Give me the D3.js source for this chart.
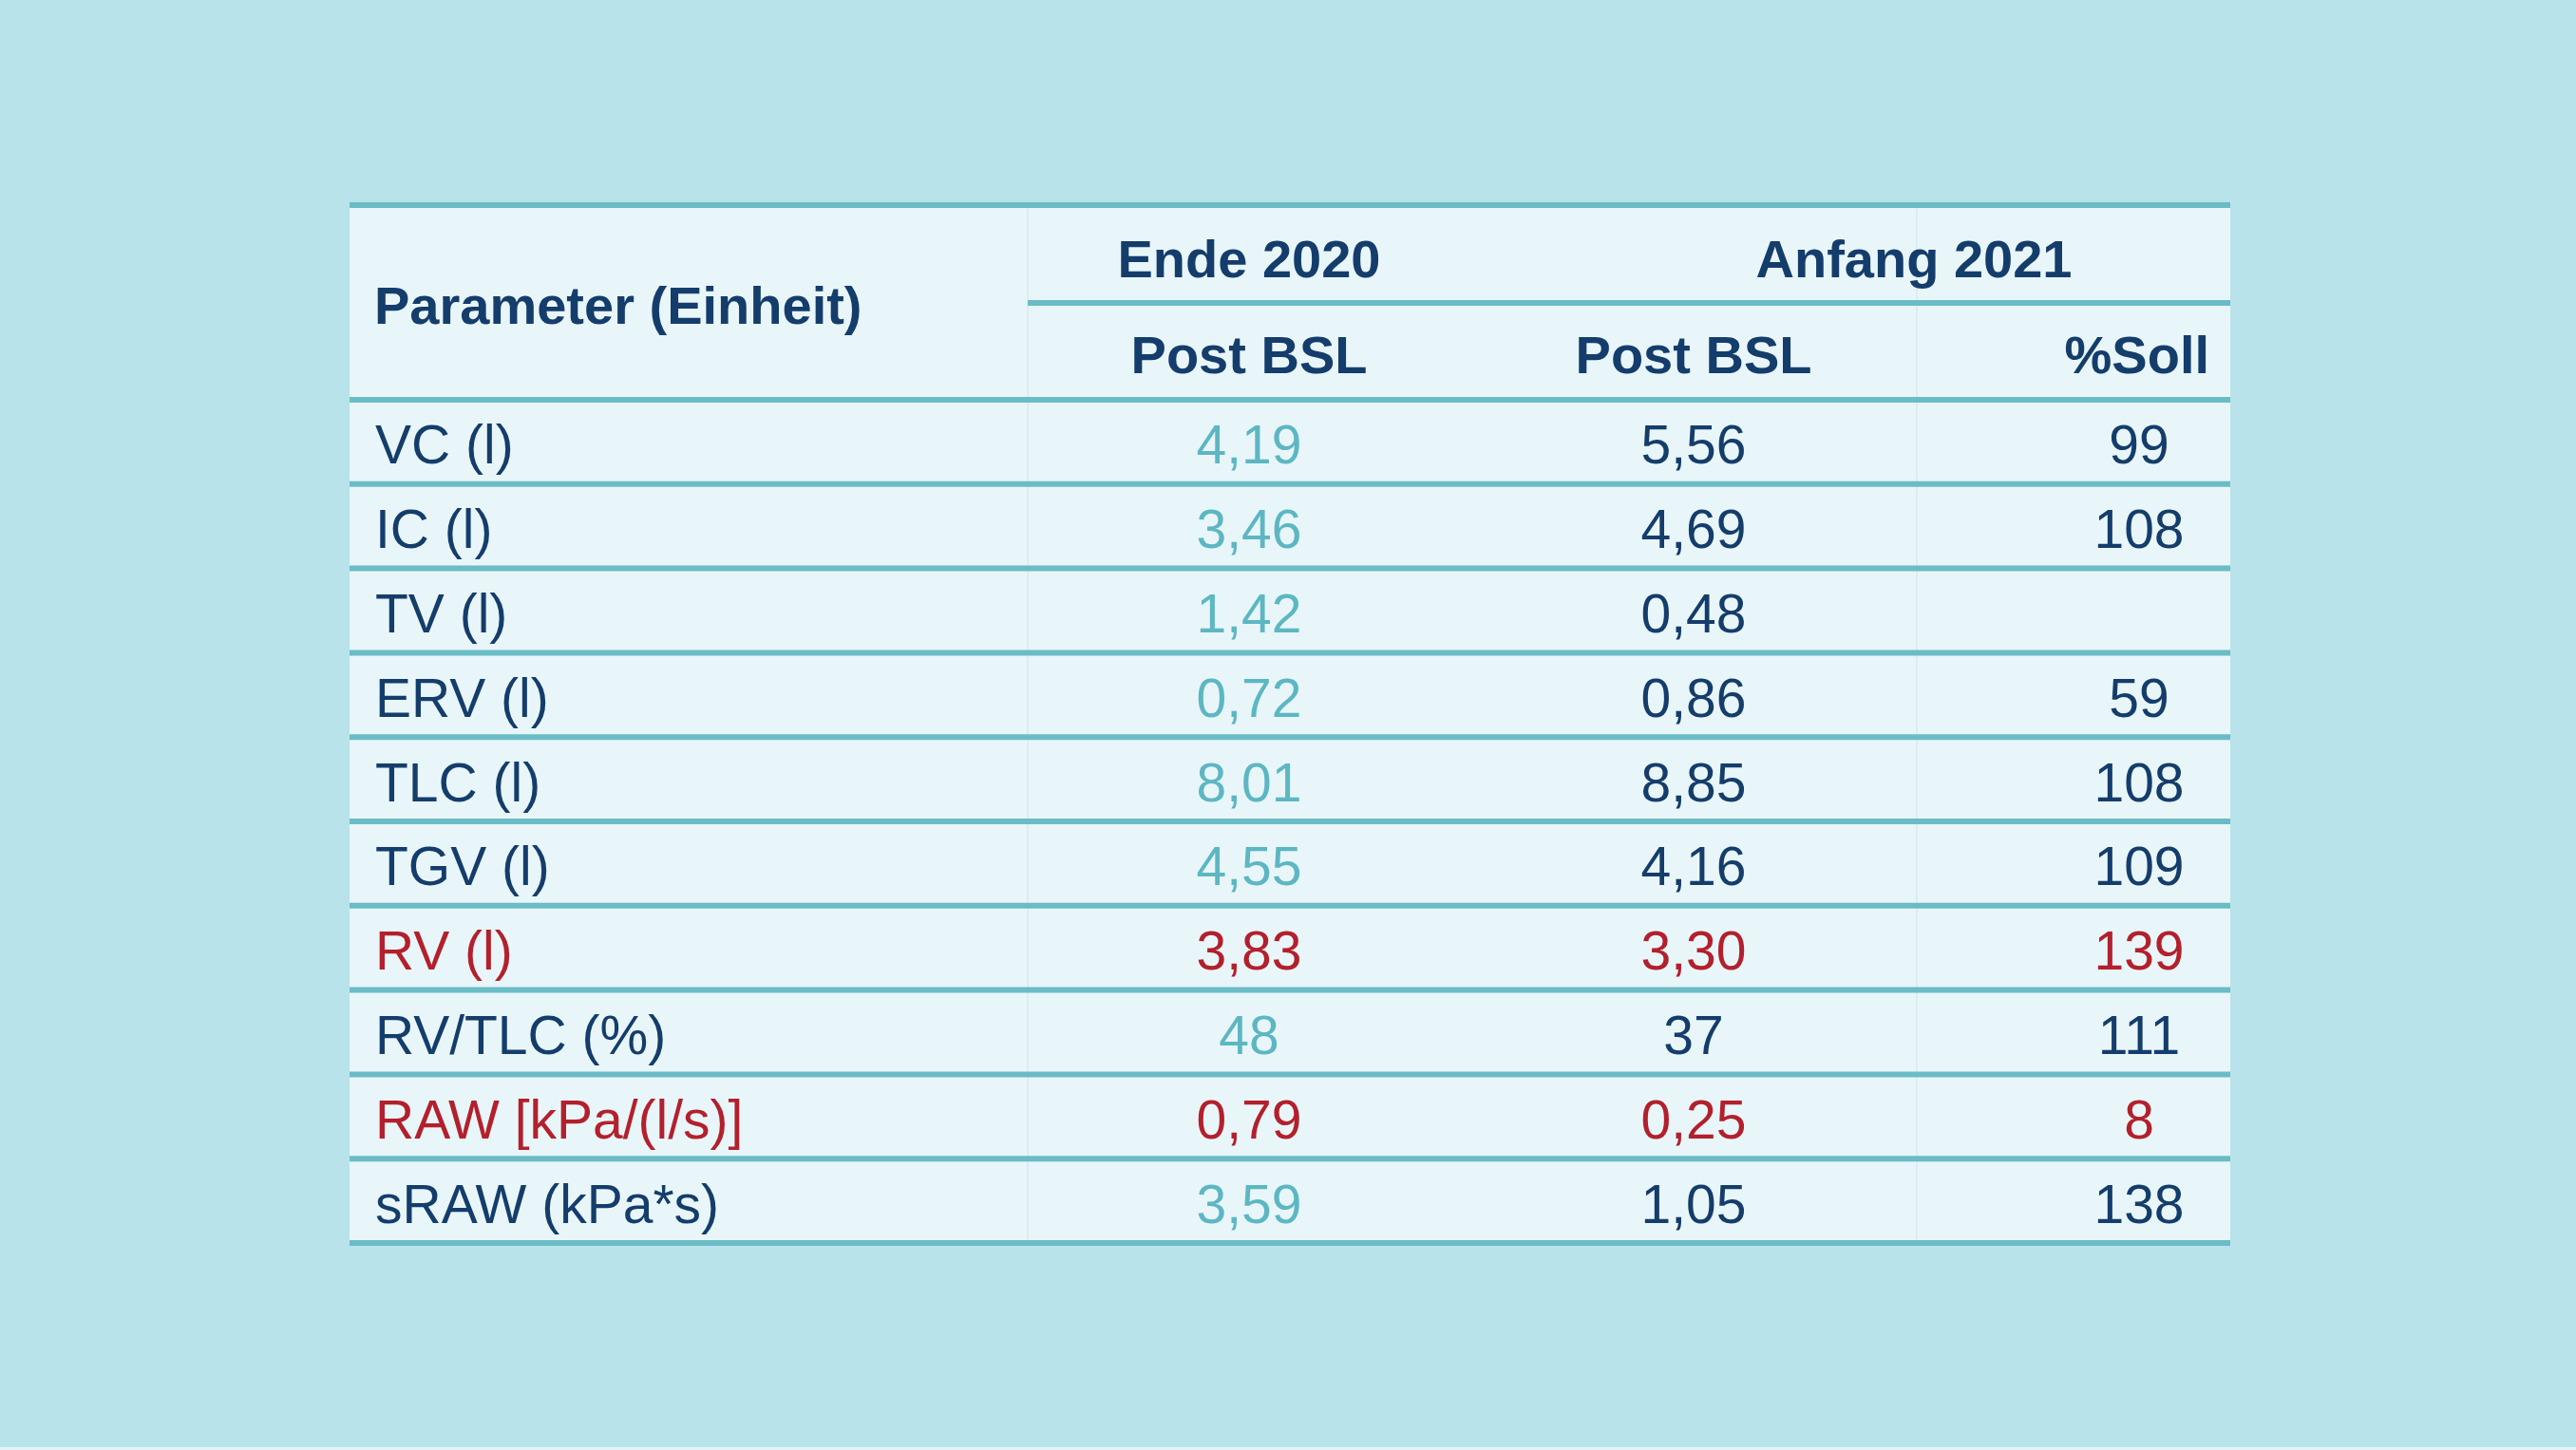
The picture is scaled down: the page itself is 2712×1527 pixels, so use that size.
<!DOCTYPE html>
<html><head><meta charset="utf-8">
<script src="https://cdn.jsdelivr.net/npm/d3@7"></script>
<style>html,body{margin:0;padding:0;background:#b8e3ea;}svg{display:block;}</style>
</head><body>
<script>
// ---- data ----
const params = ["VC (l)", "IC (l)", "TV (l)", "ERV (l)", "TLC (l)", "TGV (l)", "RV (l)", "RV/TLC (%)", "RAW [kPa/(l/s)]", "sRAW (kPa*s)"];
const ende2020 = [4.19, 3.46, 1.42, 0.72, 8.01, 4.55, 3.83, 48, 0.79, 3.59];
const anfang2021 = [5.56, 4.69, 0.48, 0.86, 8.85, 4.16, 3.30, 37, 0.25, 1.05];
const sollPct = [99, 108, null, 59, 108, 109, 139, 111, 8, 138];
const decimals = [2, 2, 2, 2, 2, 2, 2, 0, 2, 2];
const flagged = ["RV (l)", "RAW [kPa/(l/s)]"];
const headerGroups = ["Ende 2020", "Anfang 2021"];
const headerCols = ["Post BSL", "Post BSL", "%Soll"];
const headerParam = "Parameter (Einheit)";

(function(){
const W = 2712, H = 1527;
const C = {bg:"#b8e3ea", fill:"#e9f6f9", line:"#6abcc6", sep:"#dcedf1", navy:"#143d6c", teal:"#5cb7c3", red:"#b3202d"};
const font = "'Liberation Sans', Arial, Helvetica, sans-serif";

const loc = d3.formatLocale({decimal:",", thousands:".", grouping:[3], currency:["","€"]});
const fmt = (v,d) => v == null ? "" : loc.format("." + d + "f")(v);

const svg = d3.select("body").append("svg").attr("width", W).attr("height", H);
svg.append("rect").attr("width", W).attr("height", H).attr("fill", C.bg);

const tLeft = 368, tRight = 2348, tTop = 216, headBottom = 421, tBottom = 1309;
const y = d3.scaleBand().domain(params).range([headBottom, tBottom]);
const colX = d3.scaleOrdinal().domain(["ende","anfang","soll"]).range([1315, 1783, 2252]);

// table fill
svg.append("rect").attr("x", tLeft).attr("y", tTop).attr("width", tRight-tLeft).attr("height", tBottom-tTop).attr("fill", C.fill);

// faint column separators
[1082, 2018].forEach(x => svg.append("line").attr("x1", x).attr("x2", x).attr("y1", tTop).attr("y2", tBottom)
  .attr("stroke", C.sep).attr("stroke-width", 2));

// horizontal rules
const rules = [tTop, headBottom].concat(params.map(p => y(p) + y.bandwidth()));
svg.selectAll("line.rule").data(rules).join("line").attr("class","rule")
  .attr("x1", tLeft).attr("x2", tRight).attr("y1", d=>d).attr("y2", d=>d)
  .attr("stroke", C.line).attr("stroke-width", 6);
svg.append("line").attr("x1", 1082).attr("x2", tRight).attr("y1", 319).attr("y2", 319)
  .attr("stroke", C.line).attr("stroke-width", 6);

// header text
const hdr = svg.append("g").attr("font-family", font).attr("font-weight", "bold").attr("font-size", 56).attr("fill", C.navy);
hdr.append("text").attr("x", 394).attr("y", 341).text(headerParam);
hdr.append("text").attr("x", 1315).attr("y", 292).attr("text-anchor","middle").text(headerGroups[0]);
hdr.append("text").attr("x", 2015).attr("y", 292).attr("text-anchor","middle").text(headerGroups[1]);
hdr.append("text").attr("x", colX("ende")).attr("y", 393).attr("text-anchor","middle").text(headerCols[0]);
hdr.append("text").attr("x", colX("anfang")).attr("y", 393).attr("text-anchor","middle").text(headerCols[1]);
hdr.append("text").attr("x", 2326).attr("y", 393).attr("text-anchor","end").text(headerCols[2]);

// body rows
const rows = svg.append("g").attr("font-family", font).attr("font-size", 57)
  .selectAll("g").data(params).join("g")
  .attr("transform", d => `translate(0,${y(d) + y.bandwidth()/2 + 23})`);
const isRed = p => flagged.includes(p);
rows.append("text").attr("x", 395).attr("fill", p => isRed(p) ? C.red : C.navy).text(p => p);
rows.append("text").attr("x", colX("ende")).attr("text-anchor","middle")
  .attr("fill", p => isRed(p) ? C.red : C.teal).text((p,i) => fmt(ende2020[i], decimals[i]));
rows.append("text").attr("x", colX("anfang")).attr("text-anchor","middle")
  .attr("fill", p => isRed(p) ? C.red : C.navy).text((p,i) => fmt(anfang2021[i], decimals[i]));
rows.append("text").attr("x", colX("soll")).attr("text-anchor","middle")
  .attr("fill", p => isRed(p) ? C.red : C.navy).text((p,i) => fmt(sollPct[i], 0));

// thin light strip at bottom edge
svg.append("rect").attr("x", 0).attr("y", H-3).attr("width", W).attr("height", 3).attr("fill", "#e3f3f6");
})();
</script>
</body></html>
